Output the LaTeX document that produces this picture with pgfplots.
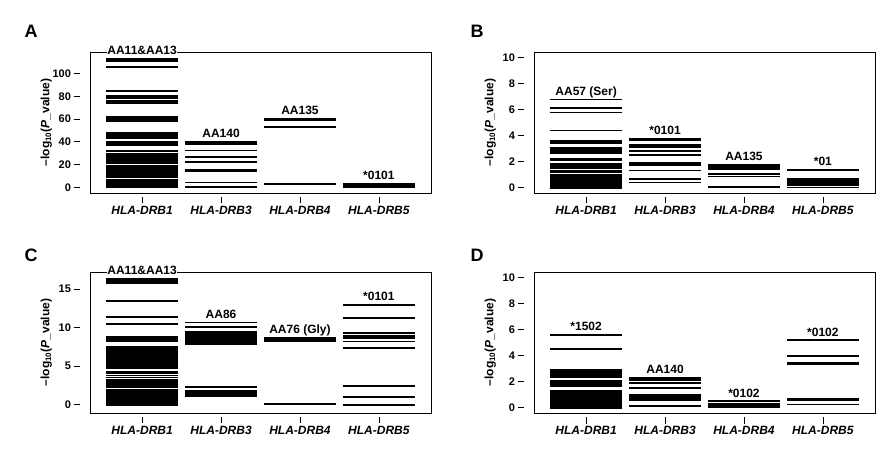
\documentclass[border=0pt]{standalone}
\usepackage{fontspec}
\setmainfont{Liberation Sans}
\usepackage{pgfplots}
\pgfplotsset{compat=1.18}

\newcommand{\lblfont}{\fontsize{12}{13}\selectfont\bfseries}
\newcommand{\catfont}{\fontsize{12}{13}\selectfont\bfseries\itshape}
\newcommand{\numfont}{\fontsize{11}{12}\selectfont\bfseries}
\newcommand{\labfont}{\fontsize{12}{13}\selectfont\bfseries}

\tikzset{ann/.style={font=\lblfont, anchor=base, yshift=4pt, inner sep=0.5pt}}
\pgfplotsset{
  hla/.style={
    scale only axis, width=341pt, height=141pt,
    xmin=0.34, xmax=4.66,
    xtick={1,2,3,4},
    xticklabels={HLA-DRB1,HLA-DRB3,HLA-DRB4,HLA-DRB5},
    tick pos=left, tick align=outside,
    major tick length=6.5pt,
    minor tick num=0,
    xtick style={yshift=-4pt, line width=0.8pt, black},
    ytick style={xshift=-10pt, line width=0.8pt, black},
    x tick label style={font=\catfont, yshift=-3pt},
    y tick label style={font=\numfont, xshift=-9pt},
    axis line style={line width=0.8pt, black},
    clip=false,
    /pgf/number format/assume math mode=true,
    every axis y label/.style={at={(rel axis cs:-0.128,0.5)}, rotate=90, anchor=center, font=\labfont},
    ylabel={–log\textsubscript{10}(\textit{P}\_value)},
  },
  seg/.style={only marks, mark=-, mark size=36pt, mark options={line width=1.7pt, black}},
}

\begin{document}
\begin{tikzpicture}
% ---------------- Panel A ----------------
\begin{axis}[hla, at={(90pt,257pt)}, anchor=south west,
  ymin=-5, ymax=119, ytick={0,20,40,60,80,100}]
\addplot[seg] table[y index=0, x expr=1] {
113
110.8
106
84.5
80
78.5
75.8
74.8
73.8
62.2
61.2
60.2
59.2
58.4
47.5
46
44.5
43
39.8
38.8
37.8
36.9
31.8
29.8
28.8
27.8
26.8
25.8
24.8
23.8
22.8
21.4
19.3
18.4
17.5
16.5
15.5
14.5
13.5
12.5
11.5
10.5
9.5
8.8
6.8
5.9
5
4
3
2
1
0.2
};
\addplot[seg] table[y index=0, x expr=2] {
40.3
39.3
38.3
37.6
32.4
26.8
22.2
15.2
14.0
4.2
0.4
};
\addplot[seg] table[y index=0, x expr=3] {
60.2
59.4
53.6
52.6
2.8
};
\addplot[seg] table[y index=0, x expr=4] {
3.0
2.1
1.2
0.5
};
\node[ann, fill=white] at (axis cs:1,113) {AA11\&AA13};
\node[ann] at (axis cs:2,40.3) {AA140};
\node[ann] at (axis cs:3,60.2) {AA135};
\node[ann] at (axis cs:4,3.0) {*0101};
\end{axis}

% ---------------- Panel B ----------------
\begin{axis}[hla, at={(534pt,257pt)}, anchor=south west,
  ymin=-0.4, ymax=10.45, ytick={0,2,4,6,8,10}]
\addplot[seg] table[y index=0, x expr=1] {
6.8
6.14
5.79
4.42
3.6
3.5
3.4
3.05
2.95
2.85
2.75
2.65
2.23
2.13
1.88
1.78
1.68
1.58
1.5
1.3
1.2
1.0
0.9
0.8
0.7
0.6
0.5
0.4
0.3
0.2
0.1
0.0
};
\addplot[seg] table[y index=0, x expr=2] {
3.8
3.67
3.32
3.22
3.15
2.85
2.52
1.95
1.87
1.78
1.32
0.68
0.4
};
\addplot[seg] table[y index=0, x expr=3] {
1.77
1.58
1.45
1.04
0.86
0.05
};
\addplot[seg] table[y index=0, x expr=4] {
1.4
1.33
0.7
0.53
0.36
0.19
0.03
};
\node[ann] at (axis cs:1,6.8) {AA57 (Ser)};
\node[ann] at (axis cs:2,3.8) {*0101};
\node[ann] at (axis cs:3,1.77) {AA135};
\node[ann] at (axis cs:4,1.4) {*01};
\end{axis}

% ---------------- Panel C ----------------
\begin{axis}[hla, at={(90pt,37pt)}, anchor=south west,
  ymin=-1.05, ymax=17.2, ytick={0,5,10,15}]
\addplot[seg] table[y index=0, x expr=1] {
16.3
16.05
15.8
13.45
11.37
10.46
8.8
8.6
8.4
8.2
7.45
7.2
6.95
6.7
6.45
6.2
5.95
5.7
5.45
5.2
4.95
4.75
4.3
4.05
3.8
3.55
3.3
3.05
2.8
2.55
2.3
1.95
1.75
1.55
1.35
1.15
0.95
0.75
0.55
0.35
0.15
0.0
};
\addplot[seg] table[y index=0, x expr=2] {
10.68
10.07
9.5
9.32
9.14
8.96
8.78
8.6
8.42
8.24
8.06
7.88
2.35
1.78
1.55
1.32
1.1
};
\addplot[seg] table[y index=0, x expr=3] {
8.7
8.5
8.3
0.09
};
\addplot[seg] table[y index=0, x expr=4] {
12.97
11.24
9.26
8.95
8.65
8.22
7.4
2.47
1.04
0.0
};
\node[ann, fill=white] at (axis cs:1,16.3) {AA11\&AA13};
\node[ann] at (axis cs:2,10.68) {AA86};
\node[ann] at (axis cs:3,8.7) {AA76 (Gly)};
\node[ann] at (axis cs:4,12.97) {*0101};
\end{axis}

% ---------------- Panel D ----------------
\begin{axis}[hla, at={(534pt,37pt)}, anchor=south west,
  ymin=-0.4, ymax=10.45, ytick={0,2,4,6,8,10}]
\addplot[seg] table[y index=0, x expr=1] {
5.62
4.5
2.9
2.8
2.7
2.55
2.45
2.35
2.05
1.95
1.85
1.75
1.68
1.27
1.17
1.07
0.97
0.87
0.77
0.67
0.57
0.47
0.37
0.27
0.17
0.07
0.0
};
\addplot[seg] table[y index=0, x expr=2] {
2.3
2.12
1.9
1.5
1.0
0.9
0.8
0.7
0.6
0.15
};
\addplot[seg] table[y index=0, x expr=3] {
0.5
0.34
0.19
0.04
};
\addplot[seg] table[y index=0, x expr=4] {
5.21
3.97
3.49
3.38
0.7
0.62
0.25
};
\node[ann] at (axis cs:1,5.62) {*1502};
\node[ann] at (axis cs:2,2.3) {AA140};
\node[ann] at (axis cs:3,0.5) {*0102};
\node[ann] at (axis cs:4,5.21) {*0102};
\end{axis}

% panel letters
\node[font=\fontsize{18}{20}\selectfont\bfseries] at (31pt,419pt) {A};
\node[font=\fontsize{18}{20}\selectfont\bfseries] at (477pt,419pt) {B};
\node[font=\fontsize{18}{20}\selectfont\bfseries] at (31pt,195pt) {C};
\node[font=\fontsize{18}{20}\selectfont\bfseries] at (477pt,195pt) {D};

\pgfresetboundingbox
\path[use as bounding box] (0pt,0pt) rectangle (876pt,450pt);
\end{tikzpicture}
\end{document}
